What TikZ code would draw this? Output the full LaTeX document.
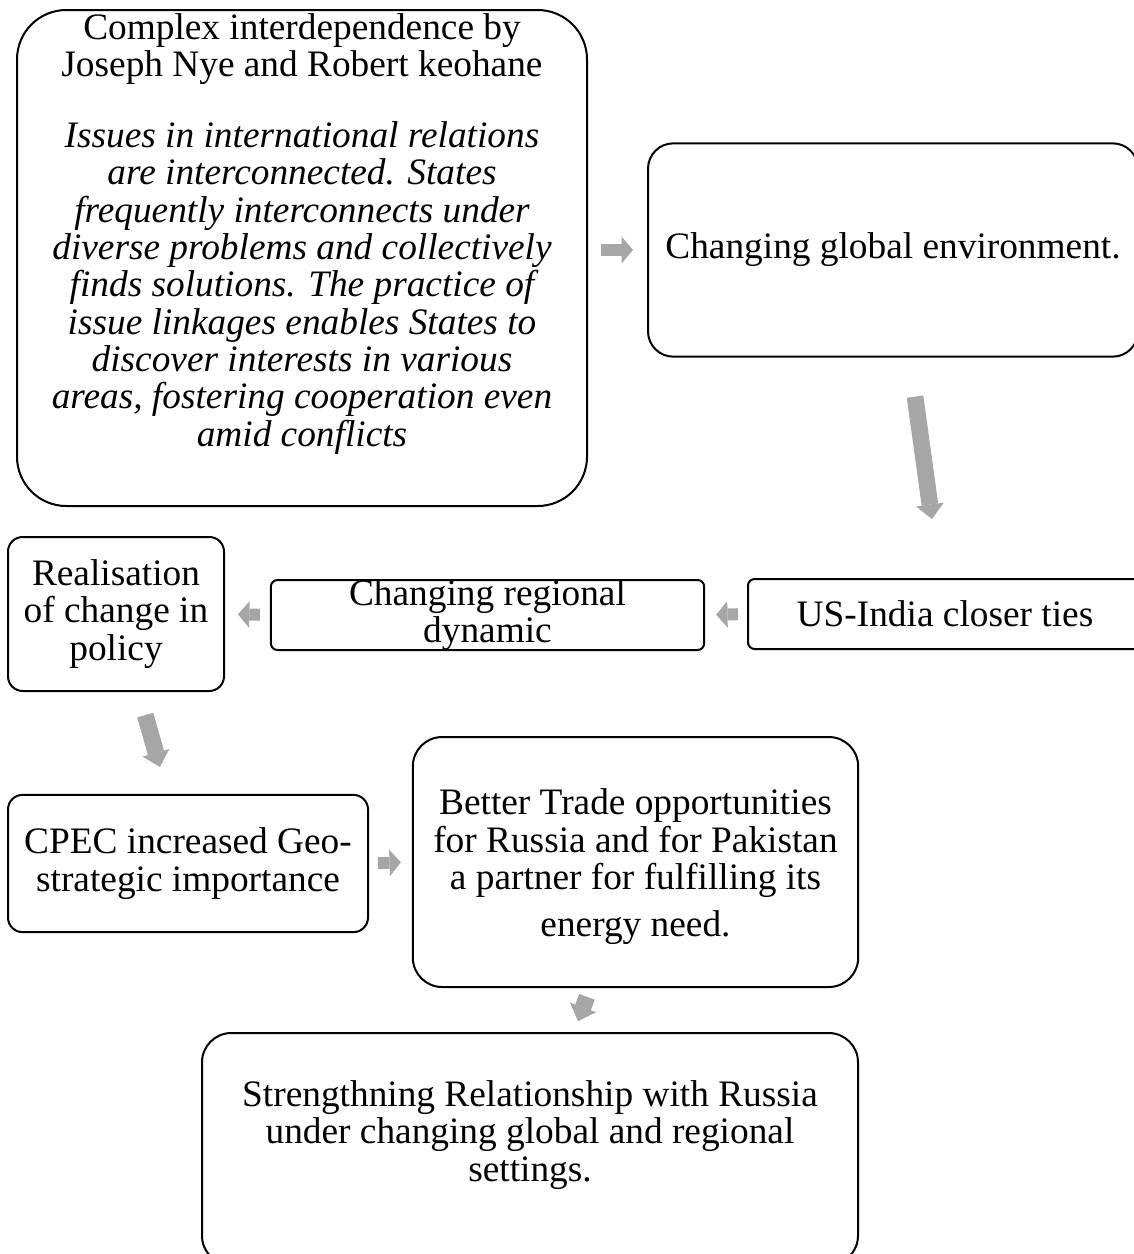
\documentclass[tikz,border=0pt]{standalone}
\usepackage{fontspec}
\setmainfont{Liberation Serif}
\usetikzlibrary{arrows.meta}
\definecolor{arrgray}{HTML}{A6A6A6}
\tikzset{
  box/.style={draw, line width=1.5pt, rectangle, inner sep=0pt, align=center,
              font=\fontsize{28pt}{28pt}\selectfont},
  txt/.style={inner sep=0pt, align=center, font=\fontsize{28pt}{28pt}\selectfont},
  blk/.style={draw=arrgray, line width=9pt,
              -{Triangle[length=8.5pt, width=20pt, line width=0pt]}},
  bigblk/.style={draw=arrgray, line width=12.5pt,
                 -{Triangle[length=11pt, width=21pt, line width=0pt]}},
}

\begin{document}
\begin{tikzpicture}[x=0.75pt, y=-0.75pt]
  \useasboundingbox (0,0) rectangle (1134,1254);
  \clip (0,0) rectangle (1134,1254);
  % boxes
  \node[box, rounded corners=37pt, minimum width=427.5pt, minimum height=372pt] (theory) at (302,258) {};
  \node[txt, text width=420pt, align=flush center] (theorytxt) at (302,234)
    {Complex interdependence by\\Joseph Nye and Robert keohane\\[25pt]
     \itshape Issues in international relations\\are interconnected. States\\
     frequently interconnects under\\diverse problems and collectively\\
     finds solutions. The practice of\\issue linkages enables States to\\
     discover interests in various\\areas, fostering cooperation even\\amid conflicts};
  \node[box, rounded corners=19pt, minimum width=367.5pt, minimum height=160pt] (glob) at (893,250)
    {Changing global environment.};
  \node[box, rounded corners=5pt, minimum width=295.5pt, minimum height=52.5pt] (usa) at (945,614)
    {US-India closer ties};
  \node[box, rounded corners=5pt, minimum width=325pt, minimum height=52.5pt] (reg) at (487.5,615) {};
  \node[txt] (regtxt) at (reg) {Changing regional\\dynamic};
  \node[box, rounded corners=11pt, minimum width=162pt, minimum height=115.5pt] (real) at (116,614)
    {Realisation\\of change in\\policy};
  \node[box, rounded corners=11pt, minimum width=270pt, minimum height=103pt] (cpec) at (188,863.5)
    {CPEC increased Geo-\\strategic importance};
  \node[box, rounded corners=22pt, minimum width=334pt, minimum height=187.5pt] (trade) at (635.5,862) {};
  \node[txt] (tradetxt) at (635.5,867)
    {Better Trade opportunities\\for Russia and for Pakistan\\a partner for fulfilling its\\[7.5pt]energy need.};
  \node[box, rounded corners=22pt, minimum width=492pt, minimum height=174pt] (final) at (530,1149) {};
  \node[txt] (finaltxt) at (530,1135)
    {Strengthning Relationship with Russia\\under changing global and regional\\settings.};
  % arrows
  \draw[blk, shorten <=9.75pt, shorten >=10.5pt] (theory.east |- glob.west) -- (glob.west);
  \draw[bigblk, shorten <=29.5pt, shorten >=44.6pt] ([xshift=12.5pt]glob.south) -- ([xshift=-3.75pt]usa.north);
  \draw[blk, shorten <=6.75pt, shorten >=8.25pt] (usa.west) -- (reg.east);
  \draw[blk, shorten <=7.5pt, shorten >=9.75pt] (reg.west) -- (real.east);
  \draw[bigblk, shorten <=18pt, shorten >=21pt] ([xshift=17pt]real.south) -- ([xshift=-15.3pt]cpec.north);
  \draw[blk, shorten <=6.75pt, shorten >=8.25pt] (cpec.east) -- (trade.west);
  \draw[bigblk, shorten <=7pt, shorten >=8.7pt] ([xshift=-34pt]trade.south) -- ([xshift=33pt]final.north);
\end{tikzpicture}
\end{document}
